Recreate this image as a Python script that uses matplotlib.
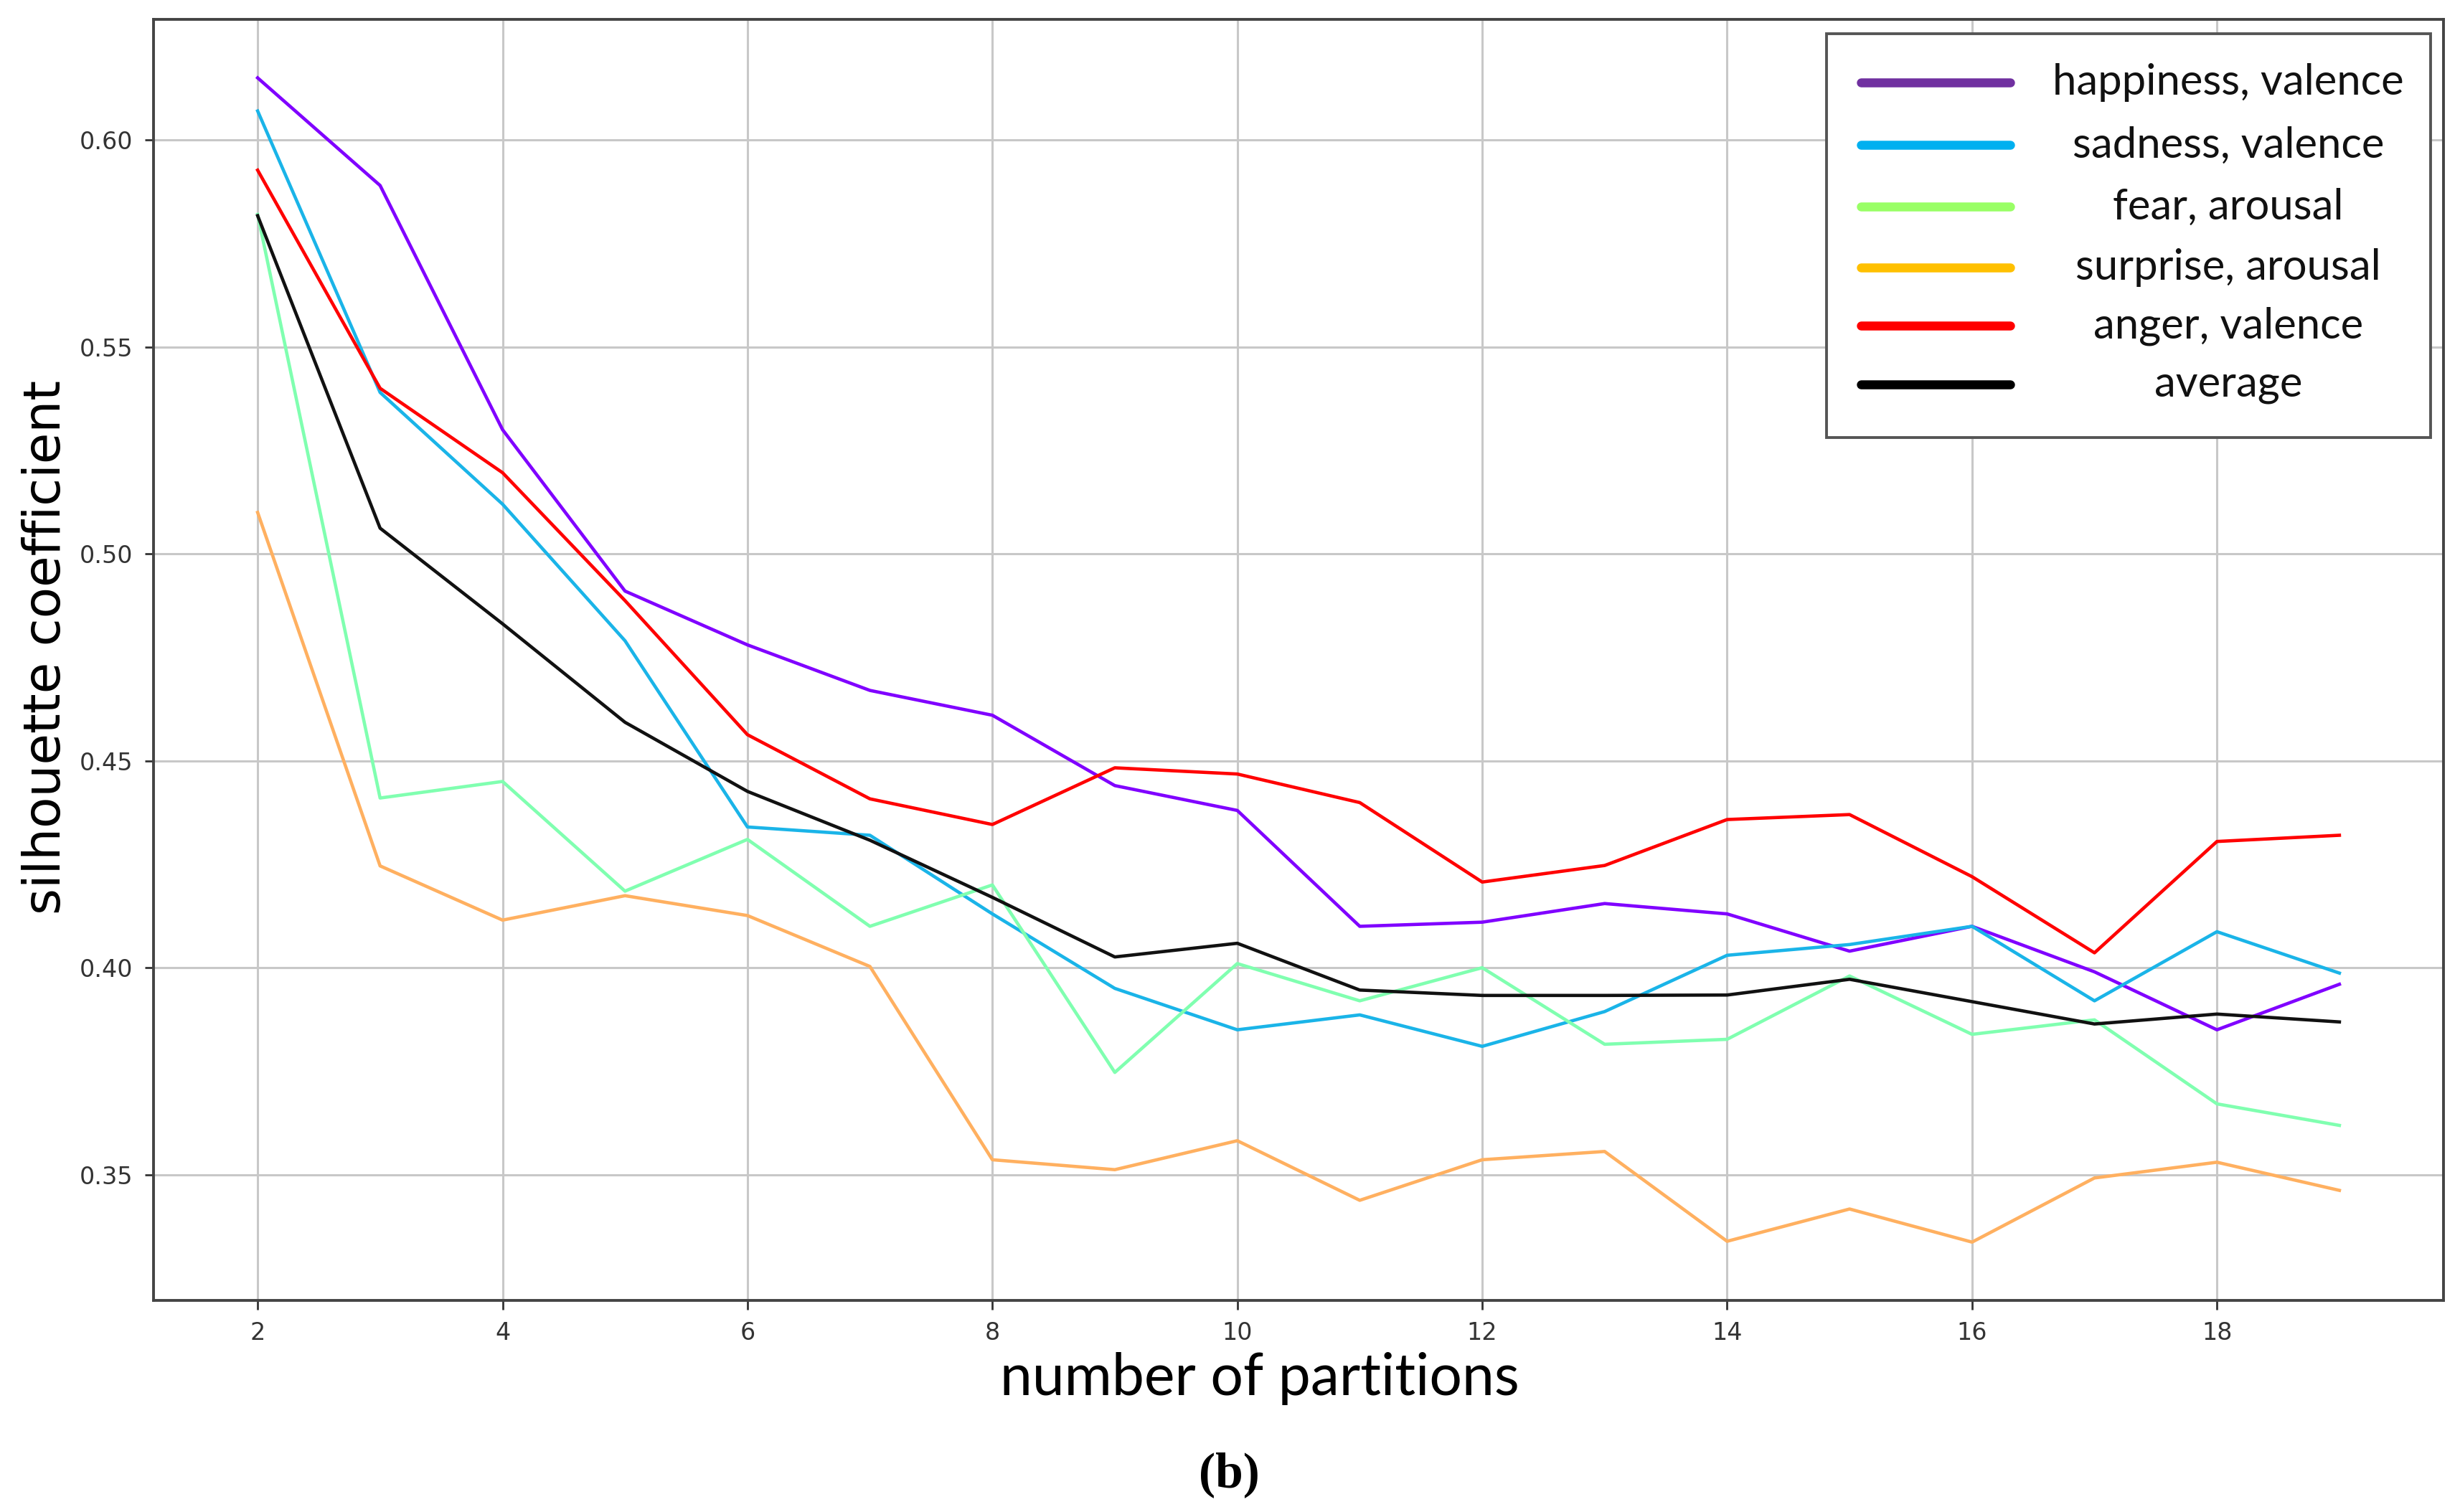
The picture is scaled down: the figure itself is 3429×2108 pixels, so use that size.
import matplotlib
matplotlib.use("Agg")
import matplotlib.pyplot as plt
from matplotlib.lines import Line2D
from matplotlib.patches import Rectangle

partitions = list(range(2, 20))

happiness_valence = [0.615, 0.589, 0.530, 0.491, 0.478, 0.467, 0.461, 0.444, 0.438, 0.410,
                     0.411, 0.4155, 0.413, 0.404, 0.410, 0.399, 0.385, 0.396]
sadness_valence = [0.607, 0.539, 0.512, 0.479, 0.434, 0.432, 0.413, 0.395, 0.385, 0.3886,
                   0.381, 0.3894, 0.403, 0.4056, 0.410, 0.392, 0.4087, 0.3987]
fear_arousal = [0.582, 0.441, 0.445, 0.4185, 0.431, 0.410, 0.420, 0.3747, 0.401, 0.392,
                0.400, 0.3815, 0.3827, 0.398, 0.3839, 0.3874, 0.3671, 0.3619]
surprise_arousal = [0.510, 0.4246, 0.4115, 0.4174, 0.4126, 0.4003, 0.3536, 0.3512, 0.3582, 0.3438,
                    0.3536, 0.3556, 0.3339, 0.3417, 0.3337, 0.3492, 0.353, 0.3462]
anger_valence = [0.5927, 0.540, 0.5196, 0.4887, 0.4563, 0.4408, 0.4346, 0.4483, 0.4468, 0.4399,
                 0.4207, 0.4247, 0.4358, 0.437, 0.422, 0.4036, 0.4305, 0.432]
average = [0.5817, 0.5062, 0.4831, 0.4593, 0.4426, 0.4308, 0.417, 0.4026, 0.4059, 0.3946,
           0.3933, 0.3933, 0.3934, 0.3972, 0.3918, 0.3864, 0.3888, 0.3869]

series_names = ["happiness, valence", "sadness, valence", "fear, arousal",
                "surprise, arousal", "anger, valence", "average"]
series_values = [happiness_valence, sadness_valence, fear_arousal,
                 surprise_arousal, anger_valence, average]
line_colors = ["#8000FF", "#1AB4E8", "#80FFB0", "#FFB060", "#FF0000", "#111111"]
legend_colors = ["#7030A0", "#00B0F0", "#99FF66", "#FFC000", "#FF0000", "#000000"]

xticks = [2, 4, 6, 8, 10, 12, 14, 16, 18]
yticks = [0.35, 0.40, 0.45, 0.50, 0.55, 0.60]

fig = plt.figure(figsize=(34.3, 21.08), dpi=100)
ax = fig.add_axes([0.0624, 0.140, 0.9306, 0.847])

for vals, col in zip(series_values, line_colors):
    ax.plot(partitions, vals, color=col, linewidth=3.3, zorder=3)

ax.set_xticks(xticks)
ax.set_yticks(yticks)
ax.set_yticklabels([f"{v:.2f}" for v in yticks])
ax.grid(True, color="#c8c8c8", linewidth=2.2)
ax.set_axisbelow(True)
ax.tick_params(axis="both", labelsize=24, labelcolor="#333333", length=9, width=2,
               color="#333333", pad=12)
for sp in ax.spines.values():
    sp.set_color("#444444")
    sp.set_linewidth(2.8)

ax.set_xlabel("number of partitions", fontfamily="Lato", fontsize=58, labelpad=7)
ax.xaxis.label.set_x(0.483)
ax.set_ylabel("silhouette coefficient", fontfamily="DejaVu Sans", fontsize=51, labelpad=8)
ax.yaxis.label.set_y(0.51)

# legend box (hand-built to keep centred labels)
x0, x1, y0, y1 = 0.7306, 0.9944, 0.6739, 0.9888
ax.add_patch(Rectangle((x0, y0), x1 - x0, y1 - y0, transform=ax.transAxes,
                       facecolor="white", edgecolor="#555555", linewidth=2.8, zorder=5))
entry_y = [0.9507, 0.9020, 0.8538, 0.8062, 0.7608, 0.7154]
for name, col, yy in zip(series_names, legend_colors, entry_y):
    ax.add_line(Line2D([0.7456, 0.8108], [yy, yy], transform=ax.transAxes, color=col,
                       linewidth=9, solid_capstyle="round", zorder=6))
    ax.text(0.906, yy, name, transform=ax.transAxes, ha="center", va="center",
            fontfamily="Lato", fontsize=43, color="#111111", zorder=6)

fig.text(0.4994, 0.0247, "(b)", ha="center", va="center", fontfamily="Liberation Serif",
         fontweight="bold", fontsize=50)

fig.savefig("out.png", dpi=100, facecolor="white")
